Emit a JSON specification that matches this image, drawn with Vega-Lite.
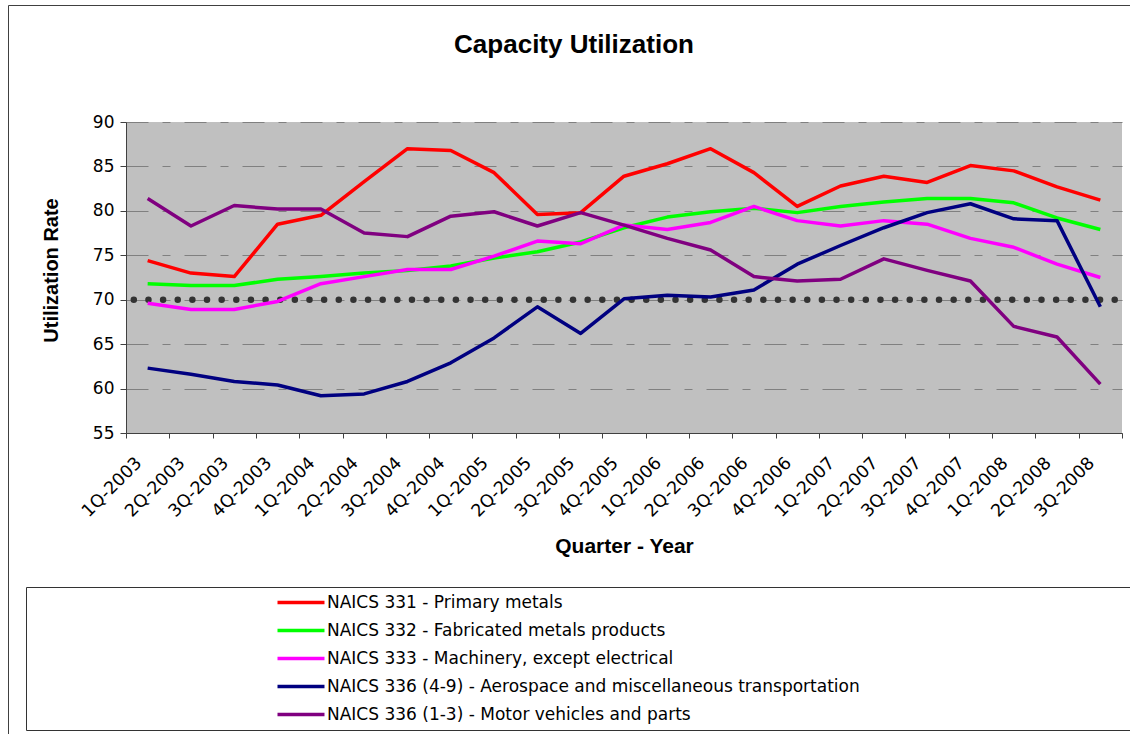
{
  "$schema": "https://vega.github.io/schema/vega-lite/v6.json",
  "width": 996,
  "height": 311,
  "autosize": {"type": "none"},
  "padding": {"left": 126, "top": 122, "right": 8, "bottom": 301},
  "background": "white",
  "title": {"text": "Capacity Utilization", "font": "Liberation Sans", "fontSize": 26, "fontWeight": "bold", "anchor": "middle", "frame": "group", "dx": -50, "baseline": "alphabetic", "offset": -74.5, "color": "#000000"},
  "config": {
    "view": {"fill": "#C0C0C0", "stroke": null},
    "axis": {"labelColor": "#000000", "titleColor": "#000000", "domainColor": "#404040", "tickColor": "#404040"}
  },
  "datasets": {
    "rates": [
      {"q": "1Q-2003", "s": "NAICS 331 - Primary metals", "v": 74.4},
      {"q": "2Q-2003", "s": "NAICS 331 - Primary metals", "v": 73.0},
      {"q": "3Q-2003", "s": "NAICS 331 - Primary metals", "v": 72.6},
      {"q": "4Q-2003", "s": "NAICS 331 - Primary metals", "v": 78.5},
      {"q": "1Q-2004", "s": "NAICS 331 - Primary metals", "v": 79.5},
      {"q": "2Q-2004", "s": "NAICS 331 - Primary metals", "v": 83.3},
      {"q": "3Q-2004", "s": "NAICS 331 - Primary metals", "v": 87.0},
      {"q": "4Q-2004", "s": "NAICS 331 - Primary metals", "v": 86.8},
      {"q": "1Q-2005", "s": "NAICS 331 - Primary metals", "v": 84.3},
      {"q": "2Q-2005", "s": "NAICS 331 - Primary metals", "v": 79.6},
      {"q": "3Q-2005", "s": "NAICS 331 - Primary metals", "v": 79.8},
      {"q": "4Q-2005", "s": "NAICS 331 - Primary metals", "v": 83.9},
      {"q": "1Q-2006", "s": "NAICS 331 - Primary metals", "v": 85.3},
      {"q": "2Q-2006", "s": "NAICS 331 - Primary metals", "v": 87.0},
      {"q": "3Q-2006", "s": "NAICS 331 - Primary metals", "v": 84.3},
      {"q": "4Q-2006", "s": "NAICS 331 - Primary metals", "v": 80.5},
      {"q": "1Q-2007", "s": "NAICS 331 - Primary metals", "v": 82.8},
      {"q": "2Q-2007", "s": "NAICS 331 - Primary metals", "v": 83.9},
      {"q": "3Q-2007", "s": "NAICS 331 - Primary metals", "v": 83.2},
      {"q": "4Q-2007", "s": "NAICS 331 - Primary metals", "v": 85.1},
      {"q": "1Q-2008", "s": "NAICS 331 - Primary metals", "v": 84.5},
      {"q": "2Q-2008", "s": "NAICS 331 - Primary metals", "v": 82.7},
      {"q": "3Q-2008", "s": "NAICS 331 - Primary metals", "v": 81.2},
      {"q": "1Q-2003", "s": "NAICS 332 - Fabricated metals products", "v": 71.8},
      {"q": "2Q-2003", "s": "NAICS 332 - Fabricated metals products", "v": 71.6},
      {"q": "3Q-2003", "s": "NAICS 332 - Fabricated metals products", "v": 71.6},
      {"q": "4Q-2003", "s": "NAICS 332 - Fabricated metals products", "v": 72.3},
      {"q": "1Q-2004", "s": "NAICS 332 - Fabricated metals products", "v": 72.6},
      {"q": "2Q-2004", "s": "NAICS 332 - Fabricated metals products", "v": 73.0},
      {"q": "3Q-2004", "s": "NAICS 332 - Fabricated metals products", "v": 73.3},
      {"q": "4Q-2004", "s": "NAICS 332 - Fabricated metals products", "v": 73.8},
      {"q": "1Q-2005", "s": "NAICS 332 - Fabricated metals products", "v": 74.7},
      {"q": "2Q-2005", "s": "NAICS 332 - Fabricated metals products", "v": 75.4},
      {"q": "3Q-2005", "s": "NAICS 332 - Fabricated metals products", "v": 76.5},
      {"q": "4Q-2005", "s": "NAICS 332 - Fabricated metals products", "v": 78.1},
      {"q": "1Q-2006", "s": "NAICS 332 - Fabricated metals products", "v": 79.3},
      {"q": "2Q-2006", "s": "NAICS 332 - Fabricated metals products", "v": 79.9},
      {"q": "3Q-2006", "s": "NAICS 332 - Fabricated metals products", "v": 80.3},
      {"q": "4Q-2006", "s": "NAICS 332 - Fabricated metals products", "v": 79.8},
      {"q": "1Q-2007", "s": "NAICS 332 - Fabricated metals products", "v": 80.5},
      {"q": "2Q-2007", "s": "NAICS 332 - Fabricated metals products", "v": 81.0},
      {"q": "3Q-2007", "s": "NAICS 332 - Fabricated metals products", "v": 81.4},
      {"q": "4Q-2007", "s": "NAICS 332 - Fabricated metals products", "v": 81.4},
      {"q": "1Q-2008", "s": "NAICS 332 - Fabricated metals products", "v": 80.9},
      {"q": "2Q-2008", "s": "NAICS 332 - Fabricated metals products", "v": 79.2},
      {"q": "3Q-2008", "s": "NAICS 332 - Fabricated metals products", "v": 77.9},
      {"q": "1Q-2003", "s": "NAICS 333 - Machinery, except electrical", "v": 69.6},
      {"q": "2Q-2003", "s": "NAICS 333 - Machinery, except electrical", "v": 68.9},
      {"q": "3Q-2003", "s": "NAICS 333 - Machinery, except electrical", "v": 68.9},
      {"q": "4Q-2003", "s": "NAICS 333 - Machinery, except electrical", "v": 69.8},
      {"q": "1Q-2004", "s": "NAICS 333 - Machinery, except electrical", "v": 71.8},
      {"q": "2Q-2004", "s": "NAICS 333 - Machinery, except electrical", "v": 72.6},
      {"q": "3Q-2004", "s": "NAICS 333 - Machinery, except electrical", "v": 73.4},
      {"q": "4Q-2004", "s": "NAICS 333 - Machinery, except electrical", "v": 73.4},
      {"q": "1Q-2005", "s": "NAICS 333 - Machinery, except electrical", "v": 74.9},
      {"q": "2Q-2005", "s": "NAICS 333 - Machinery, except electrical", "v": 76.6},
      {"q": "3Q-2005", "s": "NAICS 333 - Machinery, except electrical", "v": 76.3},
      {"q": "4Q-2005", "s": "NAICS 333 - Machinery, except electrical", "v": 78.4},
      {"q": "1Q-2006", "s": "NAICS 333 - Machinery, except electrical", "v": 77.9},
      {"q": "2Q-2006", "s": "NAICS 333 - Machinery, except electrical", "v": 78.7},
      {"q": "3Q-2006", "s": "NAICS 333 - Machinery, except electrical", "v": 80.5},
      {"q": "4Q-2006", "s": "NAICS 333 - Machinery, except electrical", "v": 78.9},
      {"q": "1Q-2007", "s": "NAICS 333 - Machinery, except electrical", "v": 78.3},
      {"q": "2Q-2007", "s": "NAICS 333 - Machinery, except electrical", "v": 78.9},
      {"q": "3Q-2007", "s": "NAICS 333 - Machinery, except electrical", "v": 78.5},
      {"q": "4Q-2007", "s": "NAICS 333 - Machinery, except electrical", "v": 76.9},
      {"q": "1Q-2008", "s": "NAICS 333 - Machinery, except electrical", "v": 75.9},
      {"q": "2Q-2008", "s": "NAICS 333 - Machinery, except electrical", "v": 74.0},
      {"q": "3Q-2008", "s": "NAICS 333 - Machinery, except electrical", "v": 72.5},
      {"q": "1Q-2003", "s": "NAICS 336 (4-9) - Aerospace and miscellaneous transportation", "v": 62.3},
      {"q": "2Q-2003", "s": "NAICS 336 (4-9) - Aerospace and miscellaneous transportation", "v": 61.6},
      {"q": "3Q-2003", "s": "NAICS 336 (4-9) - Aerospace and miscellaneous transportation", "v": 60.8},
      {"q": "4Q-2003", "s": "NAICS 336 (4-9) - Aerospace and miscellaneous transportation", "v": 60.4},
      {"q": "1Q-2004", "s": "NAICS 336 (4-9) - Aerospace and miscellaneous transportation", "v": 59.2},
      {"q": "2Q-2004", "s": "NAICS 336 (4-9) - Aerospace and miscellaneous transportation", "v": 59.4},
      {"q": "3Q-2004", "s": "NAICS 336 (4-9) - Aerospace and miscellaneous transportation", "v": 60.8},
      {"q": "4Q-2004", "s": "NAICS 336 (4-9) - Aerospace and miscellaneous transportation", "v": 62.9},
      {"q": "1Q-2005", "s": "NAICS 336 (4-9) - Aerospace and miscellaneous transportation", "v": 65.7},
      {"q": "2Q-2005", "s": "NAICS 336 (4-9) - Aerospace and miscellaneous transportation", "v": 69.2},
      {"q": "3Q-2005", "s": "NAICS 336 (4-9) - Aerospace and miscellaneous transportation", "v": 66.2},
      {"q": "4Q-2005", "s": "NAICS 336 (4-9) - Aerospace and miscellaneous transportation", "v": 70.1},
      {"q": "1Q-2006", "s": "NAICS 336 (4-9) - Aerospace and miscellaneous transportation", "v": 70.5},
      {"q": "2Q-2006", "s": "NAICS 336 (4-9) - Aerospace and miscellaneous transportation", "v": 70.3},
      {"q": "3Q-2006", "s": "NAICS 336 (4-9) - Aerospace and miscellaneous transportation", "v": 71.1},
      {"q": "4Q-2006", "s": "NAICS 336 (4-9) - Aerospace and miscellaneous transportation", "v": 74.0},
      {"q": "1Q-2007", "s": "NAICS 336 (4-9) - Aerospace and miscellaneous transportation", "v": 76.1},
      {"q": "2Q-2007", "s": "NAICS 336 (4-9) - Aerospace and miscellaneous transportation", "v": 78.1},
      {"q": "3Q-2007", "s": "NAICS 336 (4-9) - Aerospace and miscellaneous transportation", "v": 79.8},
      {"q": "4Q-2007", "s": "NAICS 336 (4-9) - Aerospace and miscellaneous transportation", "v": 80.8},
      {"q": "1Q-2008", "s": "NAICS 336 (4-9) - Aerospace and miscellaneous transportation", "v": 79.1},
      {"q": "2Q-2008", "s": "NAICS 336 (4-9) - Aerospace and miscellaneous transportation", "v": 78.9},
      {"q": "3Q-2008", "s": "NAICS 336 (4-9) - Aerospace and miscellaneous transportation", "v": 69.2},
      {"q": "1Q-2003", "s": "NAICS 336 (1-3) - Motor vehicles and parts", "v": 81.4},
      {"q": "2Q-2003", "s": "NAICS 336 (1-3) - Motor vehicles and parts", "v": 78.3},
      {"q": "3Q-2003", "s": "NAICS 336 (1-3) - Motor vehicles and parts", "v": 80.6},
      {"q": "4Q-2003", "s": "NAICS 336 (1-3) - Motor vehicles and parts", "v": 80.2},
      {"q": "1Q-2004", "s": "NAICS 336 (1-3) - Motor vehicles and parts", "v": 80.2},
      {"q": "2Q-2004", "s": "NAICS 336 (1-3) - Motor vehicles and parts", "v": 77.5},
      {"q": "3Q-2004", "s": "NAICS 336 (1-3) - Motor vehicles and parts", "v": 77.1},
      {"q": "4Q-2004", "s": "NAICS 336 (1-3) - Motor vehicles and parts", "v": 79.4},
      {"q": "1Q-2005", "s": "NAICS 336 (1-3) - Motor vehicles and parts", "v": 79.9},
      {"q": "2Q-2005", "s": "NAICS 336 (1-3) - Motor vehicles and parts", "v": 78.3},
      {"q": "3Q-2005", "s": "NAICS 336 (1-3) - Motor vehicles and parts", "v": 79.8},
      {"q": "4Q-2005", "s": "NAICS 336 (1-3) - Motor vehicles and parts", "v": 78.4},
      {"q": "1Q-2006", "s": "NAICS 336 (1-3) - Motor vehicles and parts", "v": 76.9},
      {"q": "2Q-2006", "s": "NAICS 336 (1-3) - Motor vehicles and parts", "v": 75.6},
      {"q": "3Q-2006", "s": "NAICS 336 (1-3) - Motor vehicles and parts", "v": 72.6},
      {"q": "4Q-2006", "s": "NAICS 336 (1-3) - Motor vehicles and parts", "v": 72.1},
      {"q": "1Q-2007", "s": "NAICS 336 (1-3) - Motor vehicles and parts", "v": 72.3},
      {"q": "2Q-2007", "s": "NAICS 336 (1-3) - Motor vehicles and parts", "v": 74.6},
      {"q": "3Q-2007", "s": "NAICS 336 (1-3) - Motor vehicles and parts", "v": 73.3},
      {"q": "4Q-2007", "s": "NAICS 336 (1-3) - Motor vehicles and parts", "v": 72.1},
      {"q": "1Q-2008", "s": "NAICS 336 (1-3) - Motor vehicles and parts", "v": 67.0},
      {"q": "2Q-2008", "s": "NAICS 336 (1-3) - Motor vehicles and parts", "v": 65.8},
      {"q": "3Q-2008", "s": "NAICS 336 (1-3) - Motor vehicles and parts", "v": 60.5}
    ],
    "ref": [{"ref": 70}]
  },
  "layer": [
    {
      "data": {"name": "ref"},
      "mark": {"type": "rule", "color": "#333333", "strokeWidth": 6.5, "strokeCap": "round", "strokeDash": [0.01, 14.63], "strokeDashOffset": 7.34},
      "encoding": {
        "y": {"field": "ref", "type": "quantitative"},
        "opacity": {
          "field": "ref", "type": "ordinal", "scale": {"range": [1, 1]},
          "legend": {
            "orient": "none", "legendX": -118, "legendY": -117, "title": null,
            "padding": 800, "strokeColor": "#404040", "fillColor": null,
            "symbolOpacity": 0, "symbolSize": 1, "symbolStrokeWidth": 0,
            "labelOpacity": 0, "labelFontSize": 1, "labelExpr": "''"
          }
        }
      }
    },
    {
      "data": {"name": "rates"},
      "mark": {"type": "line", "strokeWidth": 3.5, "strokeJoin": "round"},
      "encoding": {
        "x": {
          "field": "q", "type": "ordinal", "sort": null,
          "scale": {"type": "band", "paddingInner": 0, "paddingOuter": 0},
          "axis": {
            "title": "Quarter - Year", "titleFont": "Liberation Sans", "titleFontSize": 21, "titleFontWeight": "bold",
            "titleX": 498, "titleY": 113, "titleBaseline": "middle", "titleAlign": "center",
            "tickBand": "extent", "tickSize": 5, "labelAngle": -45, "labelAlign": "right", "labelBaseline": "middle",
            "labelFont": "DejaVu Sans", "labelFontSize": 17.5, "labelPadding": 22, "labelOffset": -9, "grid": false, "labelOverlap": false
          }
        },
        "y": {
          "field": "v", "type": "quantitative",
          "scale": {"domain": [55, 90], "nice": false, "zero": false},
          "axis": {
            "title": "Utilization Rate", "titleFont": "Liberation Sans", "titleFontSize": 20, "titleFontWeight": "bold",
            "titleX": -75, "titleY": 148, "titleBaseline": "middle", "titleAlign": "center", "titleAngle": -90,
            "values": [55, 60, 65, 70, 75, 80, 85, 90], "tickSize": 6, "labelPadding": 6,
            "labelFont": "DejaVu Sans", "labelFontSize": 17,
            "grid": true, "gridColor": "#808080", "gridDash": [22, 14, 8, 14], "gridWidth": 1
          }
        },
        "color": {
          "field": "s", "type": "nominal",
          "scale": {
            "domain": ["NAICS 331 - Primary metals", "NAICS 332 - Fabricated metals products", "NAICS 333 - Machinery, except electrical", "NAICS 336 (4-9) - Aerospace and miscellaneous transportation", "NAICS 336 (1-3) - Motor vehicles and parts"],
            "range": ["#FF0000", "#00FF00", "#FF00FF", "#000080", "#800080"]
          },
          "legend": {
            "orient": "none", "legendX": -100, "legendY": 465,
            "title": " ", "titleOrient": "left", "titlePadding": 236, "titleFontSize": 1,
            "padding": 7, "strokeColor": "#333333", "fillColor": "white",
            "symbolType": "M0,0H8", "symbolSize": 138, "symbolStrokeWidth": 3.5,
            "labelFont": "DejaVu Sans", "labelFontSize": 17, "labelColor": "#000000", "labelOffset": 41,
            "rowPadding": 10, "labelLimit": 3000,
            "labelExpr": "pad(datum.label, 109, '\u00a0') + '\u200b'"
          }
        }
      }
    }
  ]
}
